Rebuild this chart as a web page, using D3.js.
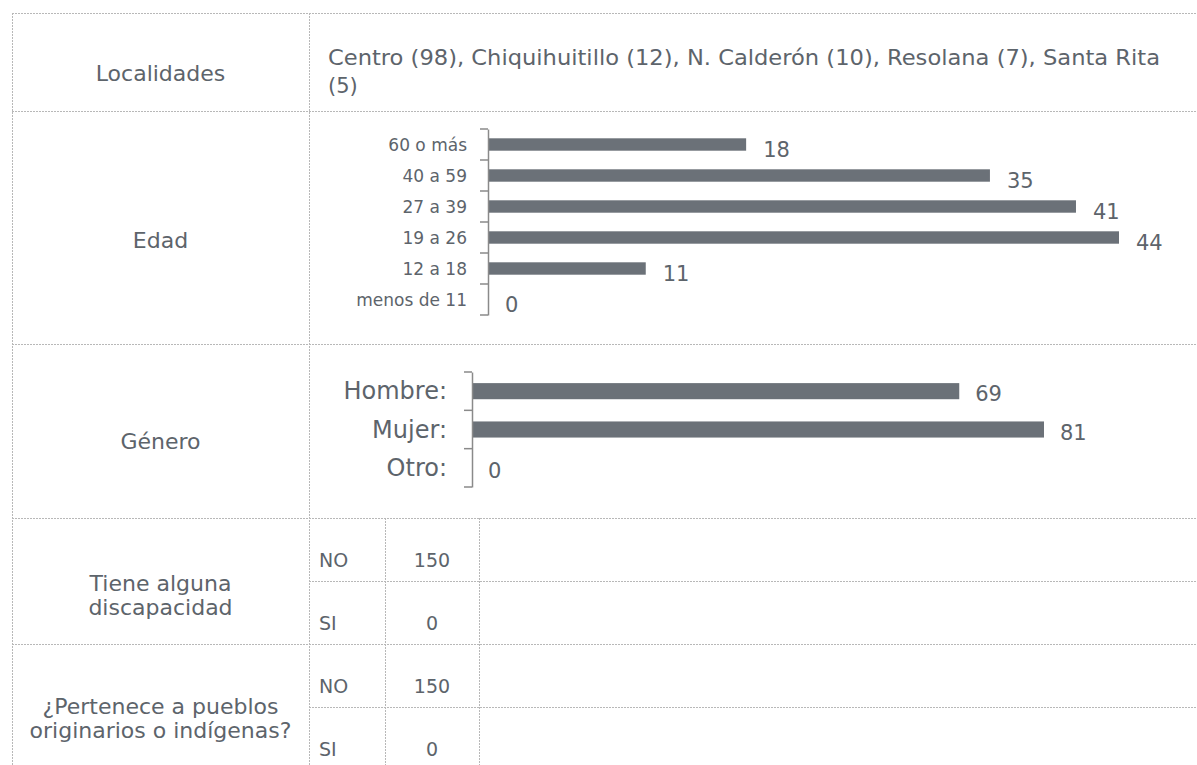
<!DOCTYPE html>
<html>
<head>
<meta charset="utf-8">
<script src="https://cdn.jsdelivr.net/npm/d3@7"></script>
<style>
  body { margin: 0; background: #fff; }
  svg text { font-family: "DejaVu Sans", "Open Sans", sans-serif; fill: #5d646b; }
</style>
</head>
<body>
<div id="chart"></div>
<script>
// data
let rowLabels = ['Localidades', 'Edad', 'Género', 'Tiene alguna|discapacidad', '¿Pertenece a pueblos|originarios o indígenas?'];

let localidades = ['Centro', 'Chiquihuitillo', 'N. Calderón', 'Resolana', 'Santa Rita'];
let localidadesN = [98, 12, 10, 7, 5];

let edadCats = ['60 o más', '40 a 59', '27 a 39', '19 a 26', '12 a 18', 'menos de 11'];
let edadVals = [18, 35, 41, 44, 11, 0];

let generoCats = ['Hombre:', 'Mujer:', 'Otro:'];
let generoVals = [69, 81, 0];

let discapCats = ['NO', 'SI'];
let discapVals = [150, 0];

let pueblosCats = ['NO', 'SI'];
let pueblosVals = [150, 0];

let barColor = '#6b7178';
let lineColor = '#b8b8b8';

let width = 1197, height = 765;

let svg = d3.select('#chart').append('svg')
  .attr('width', width)
  .attr('height', height);

///////////////////////////////////////////////////////////////////////////
///////////////////////////// Table grid //////////////////////////////////
///////////////////////////////////////////////////////////////////////////

let left = 12, mid = 309, right = width;
let rowEdges = [13, 111, 344, 518, 644, 765];
let subCols = [385, 479];
let subRows = [581, 707];

function dashed(x1, y1, x2, y2) {
  svg.append('line')
    .attr('x1', x1).attr('y1', y1).attr('x2', x2).attr('y2', y2)
    .attr('stroke', lineColor)
    .attr('stroke-width', 1)
    .attr('stroke-dasharray', '2,1')
    .attr('shape-rendering', 'crispEdges');
}

rowEdges.slice(0, 5).forEach(y => dashed(left, y + 0.5, right, y + 0.5));
dashed(left + 0.5, 13, left + 0.5, height);
dashed(mid + 0.5, 13, mid + 0.5, height);
subCols.forEach(x => dashed(x + 0.5, rowEdges[3], x + 0.5, height));
subRows.forEach(y => dashed(mid, y + 0.5, right, y + 0.5));

// first column labels
let labelY = [73, 240, 441, 595, 718];
rowLabels.forEach((lab, i) => {
  let parts = lab.split('|');
  let t = svg.append('text')
    .attr('text-anchor', 'middle')
    .attr('font-size', 22);
  parts.forEach((p, j) => {
    t.append('tspan')
      .attr('x', (left + mid) / 2)
      .attr('y', labelY[i] - (parts.length - 1) * 12 + j * 24)
      .attr('dominant-baseline', 'central')
      .text(p);
  });
});

///////////////////////////////////////////////////////////////////////////
///////////////////////////// Localidades /////////////////////////////////
///////////////////////////////////////////////////////////////////////////

let locText = localidades.map((d, i) => d + ' (' + localidadesN[i] + ')');
let line1 = locText.slice(0, 4).join(', ') + ', ' + localidades[4];
let line2 = '(' + localidadesN[4] + ')';

svg.append('text')
  .attr('x', 328).attr('y', 58)
  .attr('dominant-baseline', 'central')
  .attr('font-size', 21)
  .attr('textLength', 832)
  .attr('lengthAdjust', 'spacingAndGlyphs')
  .text(line1);
svg.append('text')
  .attr('x', 328).attr('y', 86)
  .attr('dominant-baseline', 'central')
  .attr('font-size', 21)
  .text(line2);

///////////////////////////////////////////////////////////////////////////
///////////////////////////// Bar charts //////////////////////////////////
///////////////////////////////////////////////////////////////////////////

function barChart(cats, vals, opt) {
  let x = d3.scaleLinear().domain([0, opt.maxVal]).range([opt.x0, opt.x1]);
  let y = d3.scaleBand().domain(cats).range([opt.y0, opt.y1])
    .paddingInner(opt.pad).paddingOuter(opt.pad / 2);

  let g = svg.append('g');

  g.selectAll('rect')
    .data(vals)
    .enter().append('rect')
    .attr('x', x(0))
    .attr('y', (d, i) => y(cats[i]))
    .attr('width', d => x(d) - x(0))
    .attr('height', y.bandwidth())
    .attr('fill', barColor);

  g.selectAll('.val')
    .data(vals)
    .enter().append('text')
    .attr('class', 'val')
    .attr('x', d => x(d) + opt.valGap)
    .attr('y', (d, i) => y(cats[i]) + y.bandwidth() / 2 + opt.valDy)
    .attr('dominant-baseline', 'central')
    .attr('font-size', opt.valSize)
    .text(d => d);

  // axis: labels + line
  let ax = g.append('g')
    .attr('transform', 'translate(' + x(0) + ',0)')
    .call(d3.axisLeft(y).tickSize(0).tickPadding(opt.labPad));
  ax.select('.domain').attr('stroke', '#8a8a8a').attr('stroke-width', 1.5);
  ax.selectAll('text')
    .attr('font-size', opt.labSize)
    .attr('fill', '#5d646b')
    .style('font-family', null)
    .attr('dy', null)
    .attr('dominant-baseline', 'central');

  // tick marks between categories
  let bounds = d3.range(cats.length + 1).map(i => opt.y0 + i * y.step());
  g.selectAll('.tk')
    .data(bounds)
    .enter().append('line')
    .attr('x1', x(0) - 8).attr('x2', x(0))
    .attr('y1', d => d).attr('y2', d => d)
    .attr('stroke', '#8a8a8a')
    .attr('stroke-width', 1.5);
}

barChart(edadCats, edadVals, {
  maxVal: 44, x0: 488, x1: 1119, y0: 129, y1: 315, pad: 0.6,
  valGap: 17, valDy: 5, valSize: 21, labSize: 17, labPad: 21
});

barChart(generoCats, generoVals, {
  maxVal: 81, x0: 472, x1: 1044, y0: 372, y1: 487, pad: 0.58,
  valGap: 16, valDy: 3, valSize: 21, labSize: 24, labPad: 25
});

///////////////////////////////////////////////////////////////////////////
///////////////////////////// Yes / no tables /////////////////////////////
///////////////////////////////////////////////////////////////////////////

function yesNo(cats, vals, rowTops) {
  cats.forEach((c, i) => {
    svg.append('text')
      .attr('x', 319).attr('y', rowTops[i] + 49)
      .attr('font-size', 19)
      .text(c);
    svg.append('text')
      .attr('x', (subCols[0] + subCols[1]) / 2).attr('y', rowTops[i] + 49)
      .attr('text-anchor', 'middle')
      .attr('font-size', 19)
      .text(vals[i]);
  });
}

yesNo(discapCats, discapVals, [518, 581]);
yesNo(pueblosCats, pueblosVals, [644, 707]);
</script>
</body>
</html>
